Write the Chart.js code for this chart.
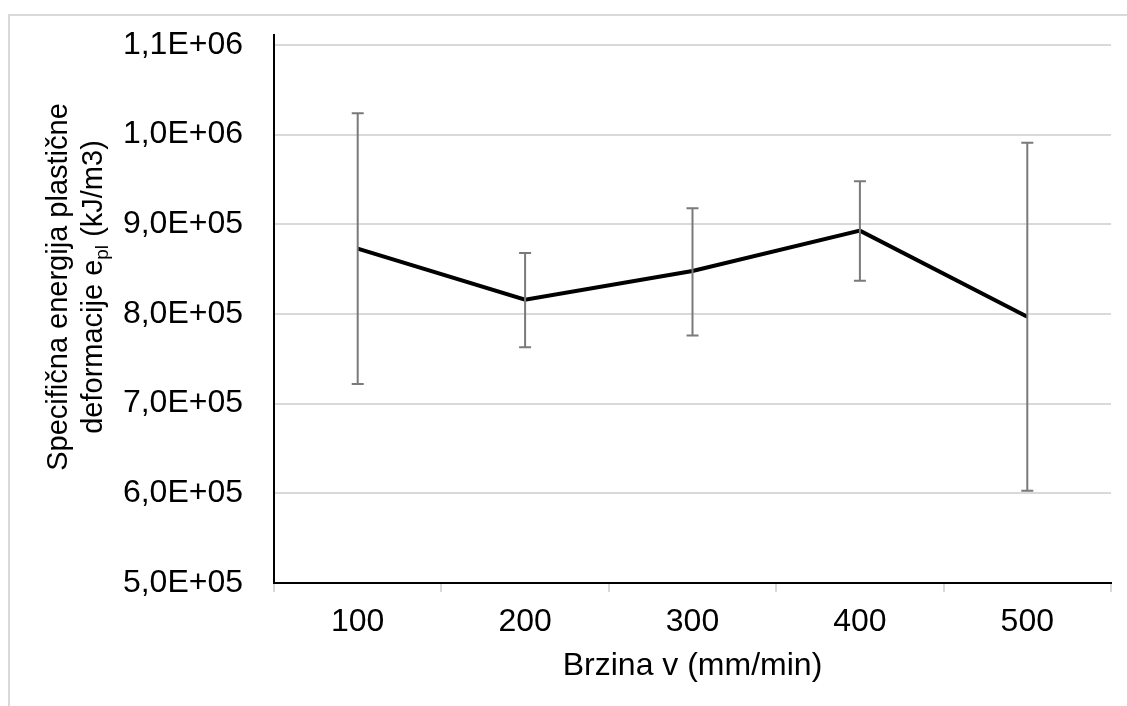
<!DOCTYPE html>
<html>
<head>
<meta charset="utf-8">
<script src="https://cdn.jsdelivr.net/npm/chart.js@4.4.1/dist/chart.umd.min.js"></script>
<style>
  html, body { margin: 0; padding: 0; background: #ffffff; overflow: hidden; }
  #frame { position: absolute; left: 8px; top: 14px; width: 1300px; height: 900px; border: 2px solid #d9d9d9; box-sizing: border-box; }
  #wrap { position: absolute; left: 0; top: 0; width: 1127px; height: 706px; }
</style>
</head>
<body>
<div id="frame"></div>
<div id="wrap"><canvas id="c" width="1127" height="706"></canvas></div>
<script>
const categories = ['100', '200', '300', '400', '500'];
const meanVals  = [873000, 816000, 848000, 893000, 797000];
const upperVals = [1024000, 868000, 918000, 948000, 991000];
const lowerVals = [722000, 763000, 776000, 837000, 603000];
const yTicks = [500000, 600000, 700000, 800000, 900000, 1000000, 1100000];
const xTitle = 'Brzina v (mm/min)';
const yTitleLine1 = 'Specifična energija plastične';
const yTitleLine2 = ['deformacije e', 'pl', ' (kJ/m3)'];

const FONT = 'Arial, "Liberation Sans", sans-serif';

function fmtSci(v) {
  const e = Math.floor(Math.log10(v) + 1e-9);
  const m = Math.round(v / Math.pow(10, e) * 10) / 10;
  return m.toFixed(1).replace('.', ',') + 'E+' + String(e).padStart(2, '0');
}

const errorBars = {
  id: 'errorBars',
  afterDatasetsDraw(chart) {
    const ctx = chart.ctx;
    const meta = chart.getDatasetMeta(0);
    const y = chart.scales.y;
    ctx.save();
    ctx.strokeStyle = '#7a7a7a';
    ctx.lineWidth = 2;
    meta.data.forEach((pt, i) => {
      const x = pt.x;
      const yHi = y.getPixelForValue(upperVals[i]);
      const yLo = y.getPixelForValue(lowerVals[i]);
      ctx.beginPath();
      ctx.moveTo(x, yHi); ctx.lineTo(x, yLo);
      ctx.moveTo(x - 6, yHi); ctx.lineTo(x + 6, yHi);
      ctx.moveTo(x - 6, yLo); ctx.lineTo(x + 6, yLo);
      ctx.stroke();
    });
    ctx.restore();
  }
};

const extras = {
  id: 'extras',
  afterDraw(chart) {
    const ctx = chart.ctx;
    const a = chart.chartArea;
    ctx.save();
    ctx.strokeStyle = '#000000';
    ctx.lineWidth = 2;
    ctx.beginPath();
    ctx.moveTo(a.left, a.top - 11);
    ctx.lineTo(a.left, a.top);
    ctx.stroke();
    ctx.fillStyle = '#000000';
    ctx.translate(0, 287);
    ctx.rotate(-Math.PI / 2);
    ctx.textBaseline = 'alphabetic';
    ctx.textAlign = 'left';
    const big = '29px ' + FONT;
    const small = '19px ' + FONT;
    ctx.font = big;
    const w1 = ctx.measureText(yTitleLine1).width;
    ctx.fillText(yTitleLine1, -w1 / 2, 67);
    const wa = ctx.measureText(yTitleLine2[0]).width;
    const wc = ctx.measureText(yTitleLine2[2]).width;
    ctx.font = small;
    const wb = ctx.measureText(yTitleLine2[1]).width;
    const total = wa + wb + wc;
    const x0 = -total / 2;
    ctx.font = big;
    ctx.fillText(yTitleLine2[0], x0, 102);
    ctx.font = small;
    ctx.fillText(yTitleLine2[1], x0 + wa, 108);
    ctx.font = big;
    ctx.fillText(yTitleLine2[2], x0 + wa + wb, 102);
    ctx.restore();
  }
};

new Chart(document.getElementById('c'), {
  type: 'line',
  data: {
    labels: categories,
    datasets: [{
      data: meanVals,
      borderColor: '#000000',
      borderWidth: 4,
      pointRadius: 0,
      pointHoverRadius: 0,
      tension: 0,
      fill: false
    }]
  },
  options: {
    responsive: false,
    animation: false,
    devicePixelRatio: 1,
    plugins: { legend: { display: false }, tooltip: { enabled: false } },
    layout: { padding: { left: 0, right: 16, top: 45, bottom: 0 } },
    scales: {
      x: {
        type: 'category',
        offset: true,
        grid: { display: true, drawOnChartArea: false, drawTicks: true, tickLength: 9, color: '#d9d9d9', lineWidth: 2, offset: true },
        border: { display: true, color: '#000000', width: 2 },
        ticks: { color: '#000000', font: { family: FONT, size: 32 }, padding: 11, maxRotation: 0 },
        title: { display: true, text: xTitle, color: '#000000', font: { family: FONT, size: 32 }, padding: { top: 4, bottom: 21 } },
        afterFit(s) { s.height = 123; }
      },
      y: {
        min: 500000,
        max: 1100000,
        afterBuildTicks(s) { s.ticks = yTicks.map(v => ({ value: v })); },
        grid: { color: '#d9d9d9', lineWidth: 2, drawTicks: true, tickLength: 31, tickColor: 'rgba(0,0,0,0)' },
        border: { display: true, color: '#000000', width: 2 },
        ticks: { color: '#000000', font: { family: FONT, size: 32 }, padding: 0, callback: v => fmtSci(v) },
        afterFit(s) { s.width = 274; }
      }
    }
  },
  plugins: [errorBars, extras]
});
</script>
</body>
</html>
